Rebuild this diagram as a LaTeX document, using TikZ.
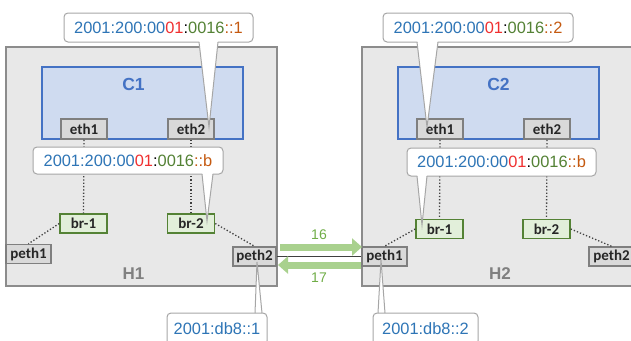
\documentclass[tikz,border=0pt]{standalone}
\usepackage{fontspec}
\setmainfont{Liberation Sans}
\newfontfamily\boxfont{Carlito}
\usetikzlibrary{arrows.meta}
\definecolor{hfill}{HTML}{E8E8E8}
\definecolor{hdraw}{HTML}{8C8C8C}
\definecolor{cfill}{HTML}{CFDBF0}
\definecolor{cdraw}{HTML}{4472C4}
\definecolor{ethfill}{HTML}{D9D9D9}
\definecolor{ethdraw}{HTML}{7F7F7F}
\definecolor{brfill}{HTML}{E2EFDA}
\definecolor{brdraw}{HTML}{548235}
\definecolor{txtdark}{HTML}{262626}
\definecolor{ipblue}{HTML}{2E75B6}
\definecolor{ipred}{HTML}{F03030}
\definecolor{ipgreen}{HTML}{548235}
\definecolor{iporange}{HTML}{C55A11}
\definecolor{arrowgreen}{HTML}{A9D18E}
\definecolor{labgreen}{HTML}{70AD47}
\definecolor{hlabel}{HTML}{808080}
\definecolor{calldraw}{HTML}{A6A6A6}
\definecolor{dotcol}{HTML}{404040}
\newcommand\myip[1]{\textcolor{ipblue}{2001:200:00}\textcolor{ipred}{01}\textcolor{black}{:}\textcolor{ipgreen}{0016}\textcolor{iporange}{::#1}}
\tikzset{
  hostbox/.style={draw=hdraw, fill=hfill, line width=1.5pt, inner sep=0pt},
  contbox/.style={draw=cdraw, fill=cfill, line width=1.3pt, inner sep=0pt, minimum width=201pt, minimum height=72pt},
  ifbox/.style={draw=ethdraw, fill=ethfill, line width=1.5pt, inner sep=0pt, minimum width=46pt, minimum height=20pt,
    font=\boxfont\bfseries\fontsize{15}{16}\selectfont, text=txtdark},
  pethbox/.style={ifbox, minimum width=45pt, minimum height=19pt},
  brbox/.style={draw=brdraw, fill=brfill, line width=1.5pt, inner sep=0pt, minimum width=47pt, minimum height=19pt,
    font=\boxfont\bfseries\fontsize{15}{16}\selectfont, text=txtdark},
  dotline/.style={draw=dotcol, dotted, line width=1.3pt},
  callbox/.style={draw=calldraw, fill=white, line width=1pt, rounded corners=4pt, inner sep=0pt,
    font=\fontsize{16.4}{18}\selectfont},
  callline/.style={draw=calldraw, line width=1pt},
  flowarrow/.style={draw=arrowgreen, line width=7pt, -{Triangle[length=10pt,width=17pt]}},
  linkline/.style={draw=dotcol, line width=1.6pt},
  flowlabel/.style={text=labgreen, font=\fontsize{14}{16}\selectfont, inner sep=0pt},
  hostlabel/.style={text=hlabel, font=\bfseries\fontsize{17}{19}\selectfont, inner sep=0pt},
  contlabel/.style={text=cdraw, font=\bfseries\fontsize{17.5}{19}\selectfont, inner sep=0pt}
}
\begin{document}
\begin{tikzpicture}[x=1pt,y=-1pt]
\useasboundingbox (0,0) rectangle (631,340);
\clip (0,0) rectangle (631,340);
% hosts
\node[hostbox, minimum width=271pt, minimum height=239pt] (H1) at (141.5,166.5) {};
\node[hostbox, minimum width=338pt, minimum height=239pt] (H2) at (531,166.5) {};
% containers
\node[contbox] (C1) at (142.5,103) {};
\node[contbox] (C2) at (498.5,103) {};
\node[contlabel] (c1lbl) at (133.5,84) {C1};
\node[contlabel] (c2lbl) at (498.5,84) {C2};
\node[hostlabel] (h1lbl) at (133.5,274) {H1};
\node[hostlabel] (h2lbl) at (500,274) {H2};
% interfaces
\node[ifbox] (c1eth1) at (84,129) {eth1};
\node[ifbox] (c1eth2) at (191,129) {eth2};
\node[ifbox] (c2eth1) at (440,129) {eth1};
\node[ifbox] (c2eth2) at (547,129) {eth2};
% bridges
\node[brbox] (h1br1) at (83.5,223.5) {br-1};
\node[brbox] (h1br2) at (191,223.5) {br-2};
\node[brbox] (h2br1) at (439.5,229) {br-1};
\node[brbox] (h2br2) at (546.5,229) {br-2};
% physical
\node[pethbox] (h1peth1) at (28.5,254) {peth1};
\node[pethbox, minimum width=43pt] (h1peth2) at (254.5,256.5) {peth2};
\node[pethbox] (h2peth1) at (384.5,256.5) {peth1};
\node[pethbox] (h2peth2) at (611.5,256.5) {peth2};
% dotted links
\draw[dotline] (c1eth1.south) -- (h1br1.north);
\draw[dotline] (c1eth2.south) -- (h1br2.north);
\draw[dotline] (c2eth1.south) -- (h2br1.north);
\draw[dotline] (c2eth2.south) -- (h2br2.north);
\draw[dotline] (h1br1.west) -- (h1peth1.north);
\draw[dotline] (h1br2.east) -- (h1peth2.north);
\draw[dotline] (h2br1.west) -- (h2peth1.north);
\draw[dotline] (h2br2.east) -- (h2peth2.north);
% link and flows
\draw[linkline] (h1peth2.east) -- (h2peth1.west);
\coordinate (f16s) at (280,247);
\coordinate (f16e) at (362,247);
\coordinate (f17s) at (361,265);
\coordinate (f17e) at (278,265);
\draw[flowarrow] (f16s) -- (f16e);
\draw[flowarrow] (f17s) -- (f17e);
\node[flowlabel] (l16) at (319,235) {16};
\node[flowlabel] (l17) at (319,278) {17};
% callouts
\node[callbox, minimum width=189pt, minimum height=29pt] (ct1) at (158.5,27.5) {\myip{1}};
\fill[white] (198.9,40) -- (209,127) -- (218.1,40) -- cycle;
\draw[callline] (199,42) -- (209,127) -- (218,42);

\node[callbox, minimum width=190pt, minimum height=29pt] (ct2) at (478,27.5) {\myip{2}};
\fill[white] (417.1,40) -- (427,127) -- (437.9,40) -- cycle;
\draw[callline] (417,42) -- (427,127) -- (438,42);

\node[callbox, minimum width=190pt, minimum height=27pt] (cm1) at (128,160.5) {\myip{b}};
\fill[white] (202,172) -- (207,221) -- (213,172) -- cycle;
\draw[callline] (202,174) -- (207,221) -- (213,174);

\node[callbox, minimum width=189pt, minimum height=28pt] (cm2) at (501.5,162) {\myip{b}};
\fill[white] (417,174) -- (422,225) -- (427,174) -- cycle;
\draw[callline] (417,176) -- (422,225) -- (427,176);

\node[callbox, minimum width=100pt, minimum height=32pt] (cb1) at (217,329) {\textcolor{ipblue}{2001:db8::1}};
\fill[white] (255,311) -- (257,262) -- (262,311) -- cycle;
\draw[callline] (255,313) -- (257,262) -- (262,313);

\node[callbox, minimum width=105pt, minimum height=32pt] (cb2) at (425.5,329) {\textcolor{ipblue}{2001:db8::2}};
\fill[white] (378,311) -- (381,260) -- (385,311) -- cycle;
\draw[callline] (378,313) -- (381,260) -- (385,313);
\end{tikzpicture}
\end{document}
